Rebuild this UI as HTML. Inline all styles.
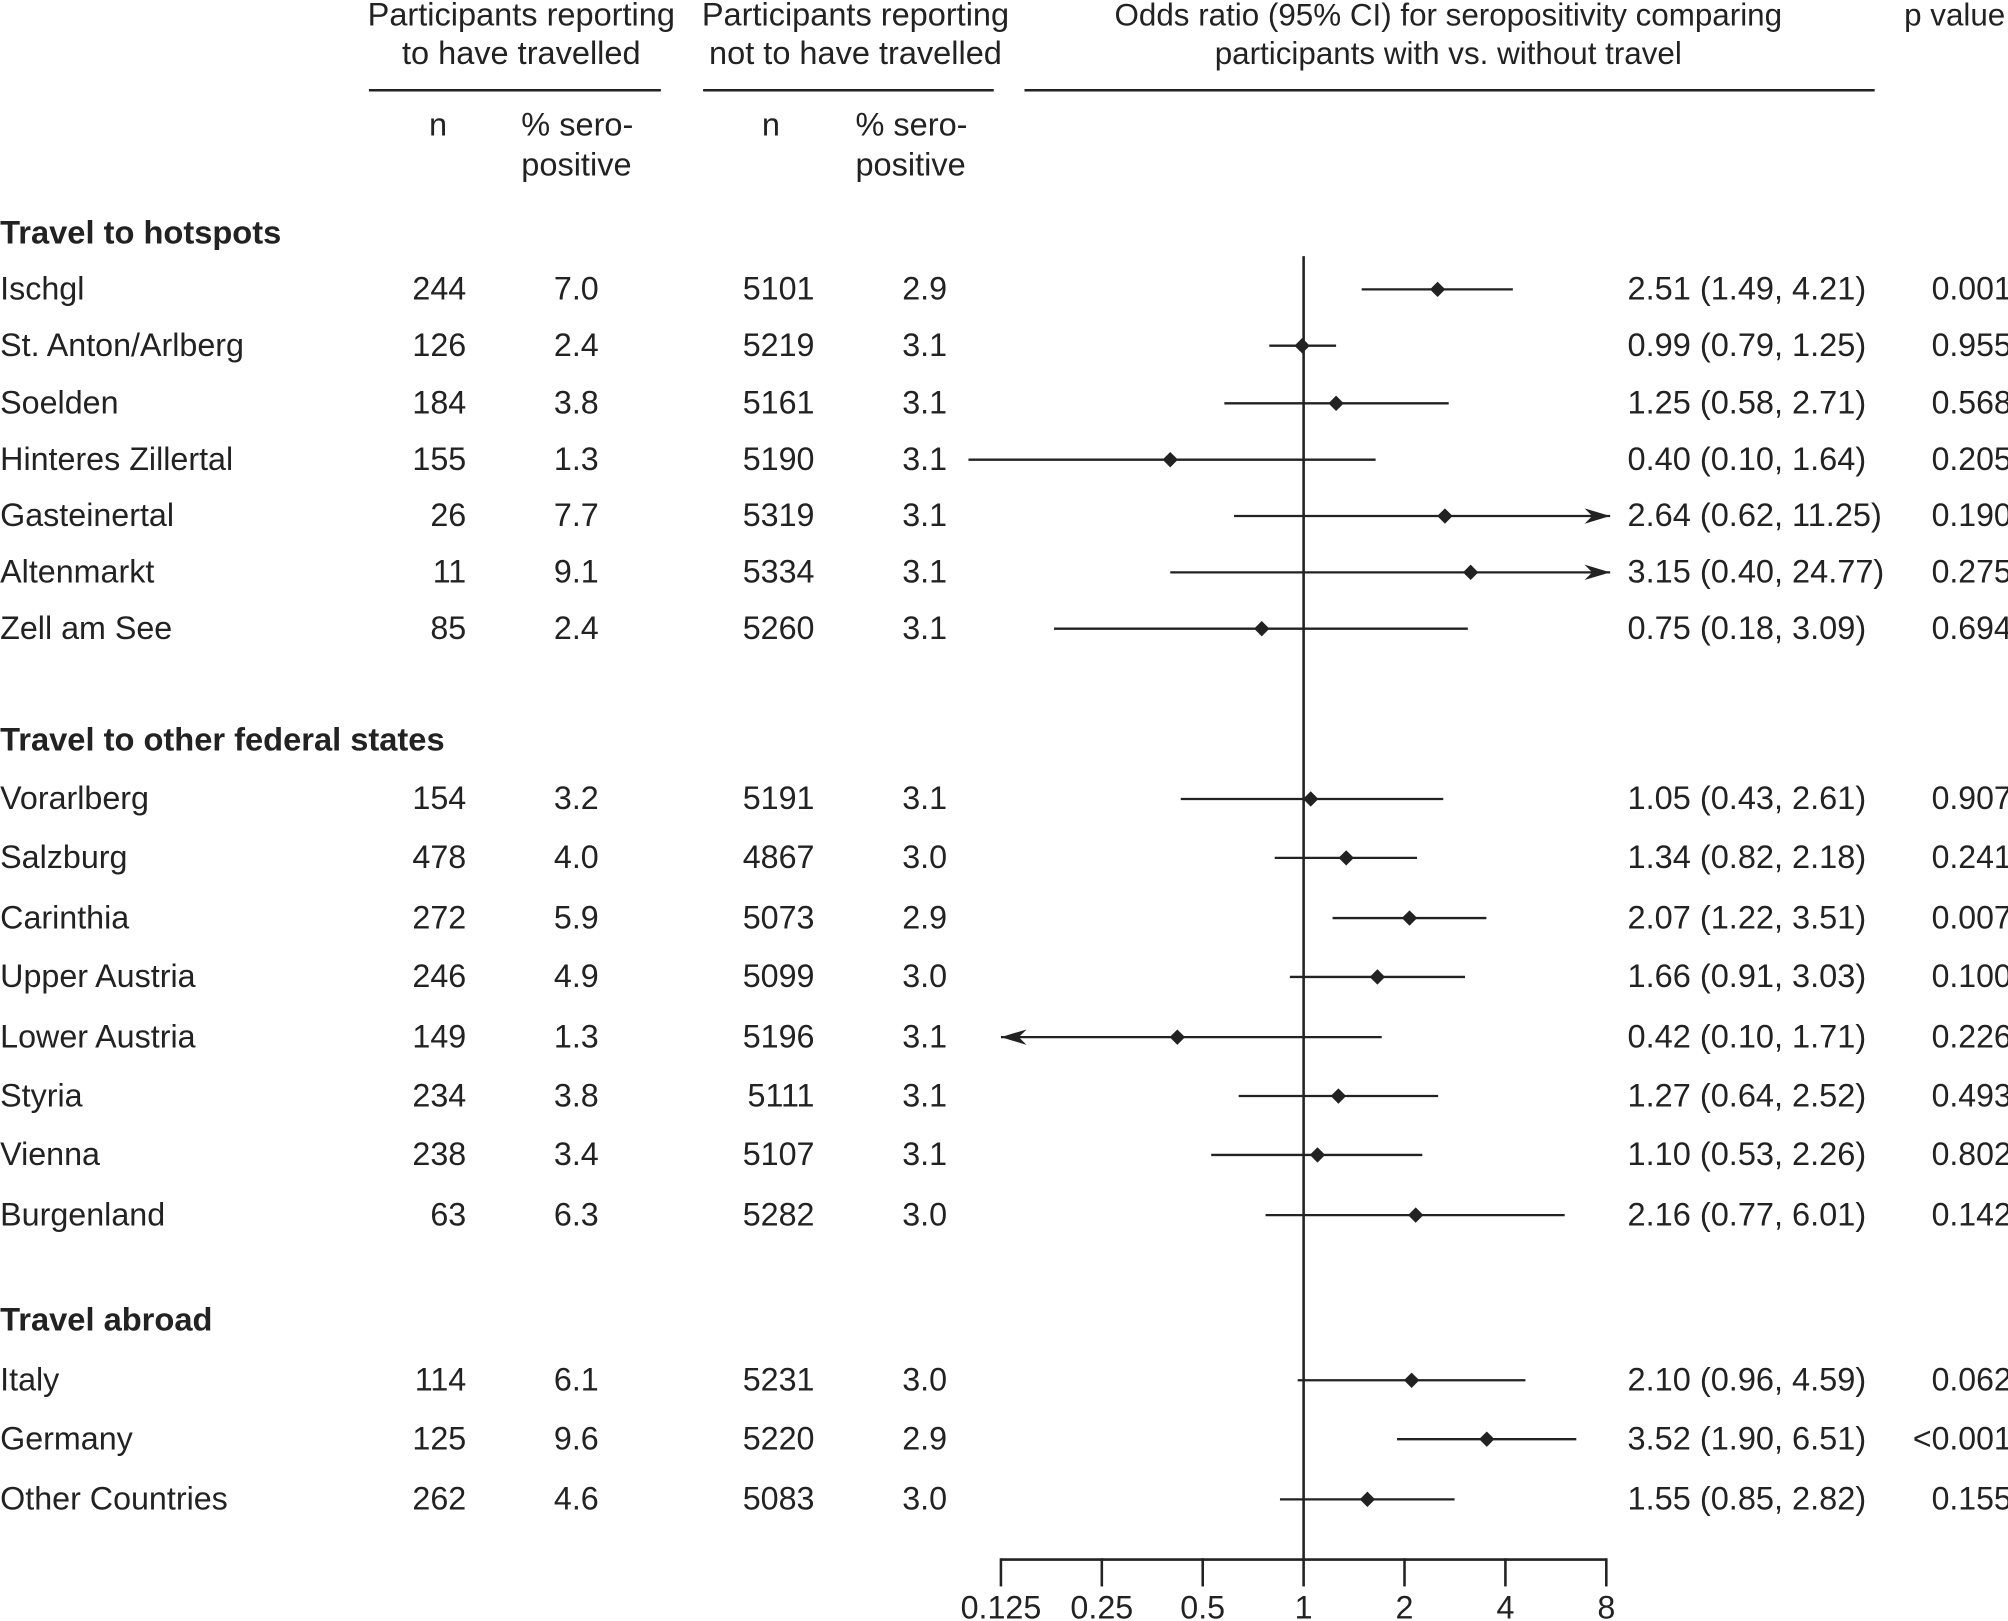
<!DOCTYPE html>
<html><head><meta charset="utf-8"><style>
html,body{margin:0;padding:0;background:#fff;}
svg{display:block;}
text{font-family:"Liberation Sans",Arial,sans-serif;fill:#222;}
</style></head><body>
<svg id="chart" width="2008" height="1621" viewBox="0 0 1568 1266" xmlns="http://www.w3.org/2000/svg">
<g id="header" font-size="25.4">
<text x="407" y="20" text-anchor="middle">Participants reporting</text>
<text x="407" y="50" text-anchor="middle">to have travelled</text>
<line x1="288" y1="70.5" x2="516" y2="70.5" stroke="#222" stroke-width="2"/>
<text x="668" y="20" text-anchor="middle">Participants reporting</text>
<text x="668" y="50" text-anchor="middle">not to have travelled</text>
<line x1="549" y1="70.5" x2="776" y2="70.5" stroke="#222" stroke-width="2"/>
<text x="1131" y="20" text-anchor="middle" font-size="24.5">Odds ratio (95% CI) for seropositivity comparing</text>
<text x="1131" y="50" text-anchor="middle" font-size="24.5">participants with vs. without travel</text>
<line x1="800" y1="70.5" x2="1464" y2="70.5" stroke="#222" stroke-width="2"/>
<text x="1487" y="20" font-size="24.5">p value</text>
<text x="342" y="106" text-anchor="middle">n</text>
<text x="407" y="106">% sero-</text>
<text x="407" y="137">positive</text>
<text x="602" y="106" text-anchor="middle">n</text>
<text x="668" y="106">% sero-</text>
<text x="668" y="137">positive</text>
</g>
<g id="rows"></g>
<g id="axis"></g>
</svg>
<script>
const sections = ["Travel to hotspots","Travel to other federal states","Travel abroad"];
const sectionY = [182,578,1031];
const labels = ["Ischgl","St. Anton/Arlberg","Soelden","Hinteres Zillertal","Gasteinertal","Altenmarkt","Zell am See",
 "Vorarlberg","Salzburg","Carinthia","Upper Austria","Lower Austria","Styria","Vienna","Burgenland",
 "Italy","Germany","Other Countries"];
const rowY = [226,270,315,359,403,447,491,624,670,717,763,810,856,902,949,1078,1124,1171];
const nTravel = [244,126,184,155,26,11,85,154,478,272,246,149,234,238,63,114,125,262];
const pctTravel = ["7.0","2.4","3.8","1.3","7.7","9.1","2.4","3.2","4.0","5.9","4.9","1.3","3.8","3.4","6.3","6.1","9.6","4.6"];
const nNo = [5101,5219,5161,5190,5319,5334,5260,5191,4867,5073,5099,5196,5111,5107,5282,5231,5220,5083];
const pctNo = ["2.9","3.1","3.1","3.1","3.1","3.1","3.1","3.1","3.0","2.9","3.0","3.1","3.1","3.1","3.0","3.0","2.9","3.0"];
const orVal = [2.51,0.99,1.25,0.40,2.64,3.15,0.75,1.05,1.34,2.07,1.66,0.42,1.27,1.10,2.16,2.10,3.52,1.55];
const ciLo = [1.49,0.79,0.58,0.10,0.62,0.40,0.18,0.43,0.82,1.22,0.91,0.10,0.64,0.53,0.77,0.96,1.90,0.85];
const ciHi = [4.21,1.25,2.71,1.64,11.25,24.77,3.09,2.61,2.18,3.51,3.03,1.71,2.52,2.26,6.01,4.59,6.51,2.82];
const arrowLo = [false,false,false,false,false,false,false,false,false,false,false,true,false,false,false,false,false,false];
const pVals = ["0.001","0.955","0.568","0.205","0.190","0.275","0.694","0.907","0.241","0.007","0.100","0.226","0.493","0.802","0.142","0.062","<0.001","0.155"];
const tickVals = [0.125,0.25,0.5,1,2,4,8];
const tickLabels = ["0.125","0.25","0.5","1","2","4","8"];

const NS="http://www.w3.org/2000/svg";
const X0=1018, PX=78.8, AXY=1218;
function xs(v){return X0+Math.log2(v)*PX;}
function mk(tag,attrs,parent,txt){const e=document.createElementNS(NS,tag);for(const k in attrs)e.setAttribute(k,attrs[k]);if(txt!==undefined)e.textContent=txt;parent.appendChild(e);return e;}
const rows=document.getElementById('rows'), axis=document.getElementById('axis');
const xmin=xs(tickVals[0]), xmax=xs(tickVals[tickVals.length-1]);
const FS=25.2;

sections.forEach((s,i)=>{
 const t=mk('text',{x:0,y:sectionY[i]+8,'font-size':25.5,'font-weight':'bold'},rows,s);
 
 
});

const ref=mk('line',{x1:X0,y1:200,x2:X0,y2:AXY,stroke:'#222','stroke-width':2},rows);



labels.forEach((lab,i)=>{
 const y=rowY[i], ty=y+8;
 const g=mk('g',{},rows);
 
 
 const a=mk('text',{x:0,y:ty,'font-size':FS},g,lab);
 
 
 const b=mk('text',{x:364,y:ty,'font-size':FS,'text-anchor':'end'},g,String(nTravel[i]));
 
 
 const c=mk('text',{x:450,y:ty,'font-size':FS,'text-anchor':'middle'},g,pctTravel[i]);
 
 
 const d=mk('text',{x:636,y:ty,'font-size':FS,'text-anchor':'end'},g,String(nNo[i]));
 
 
 const e=mk('text',{x:722,y:ty,'font-size':FS,'text-anchor':'middle'},g,pctNo[i]);
 
 
 let lo=xs(ciLo[i]), hi=xs(ciHi[i]);
 const hiArrow = ciHi[i]>tickVals[tickVals.length-1];
 if(arrowLo[i]) lo=xmin;
 if(hiArrow) hi=xmax+3;
 const ci=mk('line',{x1:lo,y1:y,x2:hi,y2:y,stroke:'#222','stroke-width':1.8},g);
 
 
 if(hiArrow){
  const ar=mk('path',{d:`M${hi} ${y} L${hi-20} ${y-6} L${hi-14} ${y} L${hi-20} ${y+6} Z`,fill:'#222'},g);
  
  
 }
 if(arrowLo[i]){
  const ar=mk('path',{d:`M${lo} ${y} L${lo+20} ${y-6} L${lo+14} ${y} L${lo+20} ${y+6} Z`,fill:'#222'},g);
  
  
 }
 const px=xs(orVal[i]);
 const dm=mk('path',{d:`M${px} ${y-6} L${px+6} ${y} L${px} ${y+6} L${px-6} ${y} Z`,fill:'#222'},g);
 
 
 const f=mk('text',{x:1271,y:ty,'font-size':25.4},g,`${orVal[i].toFixed(2)} (${ciLo[i].toFixed(2)}, ${ciHi[i].toFixed(2)})`);
 
 
 const p=mk('text',{x:1571,y:ty,'font-size':25},g,pVals[i]);
 p.setAttribute('text-anchor','end');
 
 
});

const al=mk('line',{x1:xmin,y1:AXY,x2:xmax,y2:AXY,stroke:'#222','stroke-width':2},axis);


tickVals.forEach((v,i)=>{
 const x=xs(v);
 const t=mk('line',{x1:x,y1:AXY-1,x2:x,y2:AXY+21,stroke:'#222','stroke-width':2},axis);
 
 
 const l=mk('text',{x:x,y:1264,'font-size':FS,'text-anchor':'middle'},axis,tickLabels[i]);
 
 
});
</script>
</body></html>
